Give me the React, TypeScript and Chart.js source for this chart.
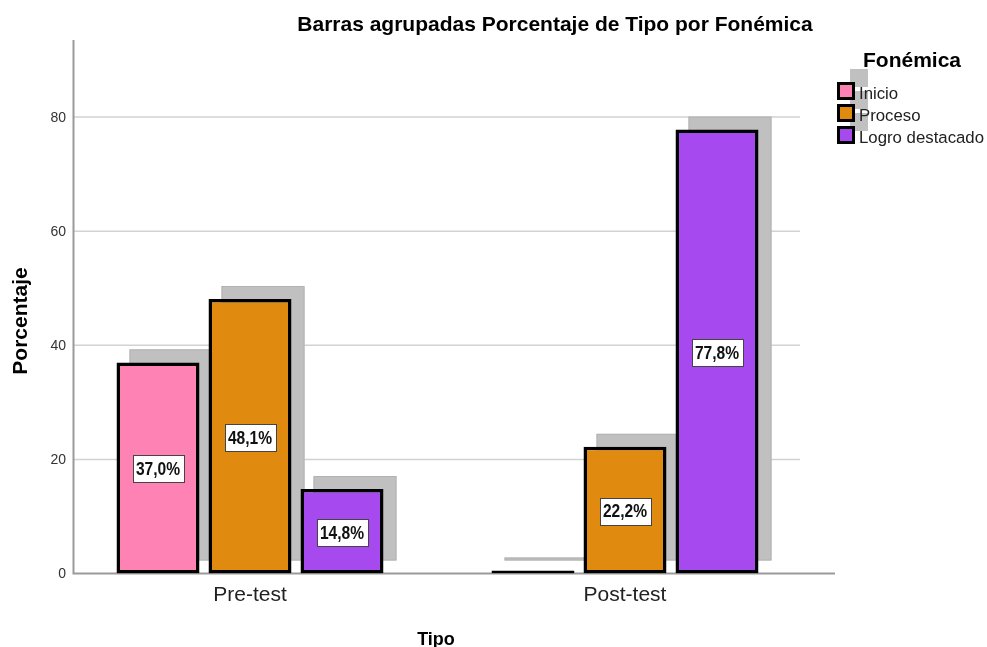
import React, { useEffect, useRef } from "react";
import { Chart, registerables } from "chart.js";

Chart.register(...registerables);

// ---- Data ----
const categories = ["Pre-test", "Post-test"];
const seriesNames = ["Inicio", "Proceso", "Logro destacado"];
const inicio = [37.0, 0];
const proceso = [48.1, 22.2];
const logro = [14.8, 77.8];
const yTicks = [0, 20, 40, 60, 80];
const yMax = 93.5;

const chartTitle = "Barras agrupadas Porcentaje de Tipo por Fonémica";
const legendTitle = "Fonémica";
const xTitle = "Tipo";
const yTitle = "Porcentaje";

const colors = ["#ff82b4", "#e08a10", "#a64af0"];

const FONT = '"Liberation Sans", Arial, Helvetica, sans-serif';
const SDX = 13;
const SDY = -13;

const fmt = (v: number) => v.toFixed(1).replace(".", ",") + "%";

const decor = {
  id: "decor",
  beforeDatasetsDraw(chart: any) {
    const { ctx, chartArea, scales } = chart;
    const ys = scales.y;
    const base = ys.getPixelForValue(0);
    ctx.save();
    // gridlines
    ctx.strokeStyle = "#d2d2d2";
    ctx.lineWidth = 1.5;
    yTicks.forEach((v) => {
      if (v === 0) return;
      const py = ys.getPixelForValue(v);
      ctx.beginPath();
      ctx.moveTo(73, py);
      ctx.lineTo(800, py);
      ctx.stroke();
    });
    // y tick labels
    ctx.fillStyle = "#333";
    ctx.font = `14px ${FONT}`;
    ctx.textAlign = "right";
    ctx.textBaseline = "middle";
    yTicks.forEach((v) => {
      ctx.fillText(String(v), 66, ys.getPixelForValue(v) + 1);
    });
    // axis lines
    ctx.strokeStyle = "#9a9a9a";
    ctx.lineWidth = 2;
    ctx.beginPath();
    ctx.moveTo(73.5, chartArea.top);
    ctx.lineTo(73.5, base);
    ctx.lineTo(835, base);
    ctx.stroke();
    // shadows
    chart.data.datasets.forEach((_ds: any, i: number) => {
      const meta = chart.getDatasetMeta(i);
      meta.data.forEach((bar: any) => {
        const { x, y, base: b, width } = bar.getProps(["x", "y", "base", "width"], true);
        const h = Math.max(b - y, 3);
        const left = x - width / 2 + SDX;
        const top = b - h + SDY;
        ctx.fillStyle = "#c0c0c0";
        ctx.fillRect(left, top, width, h);
        ctx.strokeStyle = "#b2b2b2";
        ctx.lineWidth = 1;
        ctx.strokeRect(left + 0.5, top + 0.5, width - 1, h - 1);
      });
    });
    ctx.restore();
  },
  afterDatasetsDraw(chart: any) {
    const { ctx } = chart;
    ctx.save();
    ctx.font = `bold 19px ${FONT}`;
    const sx = 0.82;
    chart.data.datasets.forEach((ds: any, i: number) => {
      const meta = chart.getDatasetMeta(i);
      meta.data.forEach((bar: any, j: number) => {
        const v = ds.data[j];
        if (!v) return;
        const { x, y, base } = bar.getProps(["x", "y", "base"], true);
        const txt = fmt(v);
        const tw = ctx.measureText(txt).width * sx;
        const bw = Math.round(tw + 7);
        const bh = 27;
        const cy = (y + base) / 2 + 1;
        const left = Math.round(x - bw / 2) + 0.5;
        const top = Math.round(cy - bh / 2) + 0.5;
        ctx.fillStyle = "#ffffff";
        ctx.fillRect(left, top, bw, bh);
        ctx.strokeStyle = "#444";
        ctx.lineWidth = 1;
        ctx.strokeRect(left, top, bw, bh);
        ctx.save();
        ctx.translate(x, cy + 1);
        ctx.scale(sx, 1);
        ctx.fillStyle = "#111";
        ctx.textAlign = "center";
        ctx.textBaseline = "middle";
        ctx.fillText(txt, 0, 0);
        ctx.restore();
      });
    });
    ctx.restore();
  },
  afterDraw(chart: any) {
    const { ctx } = chart;
    ctx.save();
    // title
    ctx.fillStyle = "#000";
    ctx.font = `bold 21px ${FONT}`;
    ctx.textAlign = "center";
    ctx.textBaseline = "alphabetic";
    ctx.fillText(chartTitle, 555, 31);
    // x title
    ctx.font = `bold 18px ${FONT}`;
    ctx.fillText(xTitle, 436, 645);
    // y title
    ctx.font = `bold 21px ${FONT}`;
    ctx.save();
    ctx.translate(27, 321);
    ctx.rotate(-Math.PI / 2);
    ctx.fillText(yTitle, 0, 0);
    ctx.restore();
    // legend
    ctx.textAlign = "left";
    ctx.font = `bold 21px ${FONT}`;
    ctx.fillText(legendTitle, 863, 67);
    const bx = 837;
    const by0 = 82;
    const pitch = 22;
    const bs = 18;
    seriesNames.forEach((_n, i) => {
      const by = by0 + i * pitch;
      ctx.fillStyle = "#c0c0c0";
      ctx.fillRect(bx + SDX, by + SDY, bs, bs);
    });
    seriesNames.forEach((n, i) => {
      const by = by0 + i * pitch;
      ctx.fillStyle = "#000";
      ctx.fillRect(bx, by, bs, bs);
      ctx.fillStyle = colors[i];
      ctx.fillRect(bx + 3, by + 3, bs - 6, bs - 6);
      ctx.fillStyle = "#222";
      ctx.font = `16.8px ${FONT}`;
      ctx.fillText(n, 859, by + 17);
    });
    ctx.restore();
  },
};

export default function App() {
  const ref = useRef<HTMLCanvasElement | null>(null);
  useEffect(() => {
    document.body.style.margin = "0";
    const canvas = ref.current;
    if (!canvas) return;
    const values = [inicio, proceso, logro];
    const chart = new Chart(canvas, {
      type: "bar",
      data: {
        labels: categories,
        datasets: seriesNames.map((name, i) => ({
          label: name,
          data: values[i],
          backgroundColor: colors[i],
          borderColor: "#000000",
          borderWidth: 3.5,
          borderSkipped: false,
          minBarLength: 3,
          categoryPercentage: 0.736,
          barPercentage: 0.902,
        })),
      },
      options: {
        responsive: false,
        animation: false,
        devicePixelRatio: 1,
        layout: { padding: { left: 0, right: 174.5, top: 40, bottom: 0 } },
        plugins: {
          legend: { display: false },
          title: { display: false },
          tooltip: { enabled: false },
        },
        scales: {
          x: {
            type: "category",
            offset: true,
            grid: { display: false, drawTicks: false },
            border: { display: false },
            ticks: {
              color: "#222",
              font: { family: FONT, size: 21 },
              padding: 9,
            },
            afterFit: (s: any) => {
              s.height = 73.5;
            },
          },
          y: {
            min: 0,
            max: yMax,
            grid: { display: false, drawTicks: false },
            border: { display: false },
            ticks: { display: false },
            afterFit: (s: any) => {
              s.width = 62.5;
            },
          },
        },
      },
      plugins: [decor],
    });
    return () => chart.destroy();
  }, []);
  return (
    <div style={{ width: 987, height: 647 }}>
      <canvas ref={ref} width={987} height={647} style={{ display: "block" }} />
    </div>
  );
}
